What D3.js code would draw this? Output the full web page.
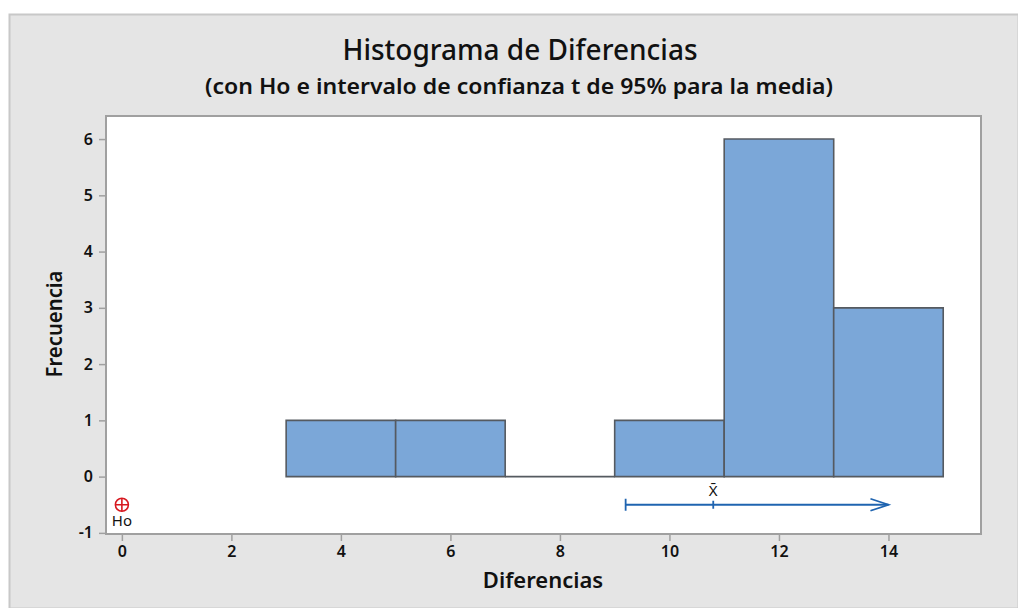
<!DOCTYPE html>
<meta charset="utf-8">
<style>
  body { margin: 0; background: #fff; }
  text { font-family: "Noto Sans", "Open Sans", sans-serif; }
</style>
<script src="https://d3js.org/d3.v7.min.js"></script>
<div id="chart"></div>
<script>
// Datos: clases del histograma (limites) y frecuencias
var binEdges = [3, 5, 7, 9, 11, 13, 15];
var counts = [1, 1, 0, 1, 6, 3];
var xTicks = [0, 2, 4, 6, 8, 10, 12, 14];
var yTicks = [-1, 0, 1, 2, 3, 4, 5, 6];
// Ho y intervalo de confianza (limite inferior, media, extremo de la flecha)
var ho = 0;
var ciLower = 9.2, xbar = 10.8, ciArrowEnd = 14.0;

var W = 1018, H = 608;
var svg = d3.select("#chart").append("svg")
  .attr("width", W).attr("height", H);

// fondo gris del grafico
svg.append("rect")
  .attr("x", 9.5).attr("y", 14.5)
  .attr("width", W - 9).attr("height", H - 14)
  .attr("fill", "#e5e5e5").attr("stroke", "#c8c8c8").attr("stroke-width", 2);

var pLeft = 106, pRight = 981, pTop = 116, pBottom = 534;

var x = d3.scaleLinear().domain([-0.29, 15.69]).range([pLeft, pRight]);
var y = d3.scaleLinear().domain([-1.02, 6.41]).range([pBottom, pTop]);

// area de datos
svg.append("rect")
  .attr("x", pLeft).attr("y", pTop)
  .attr("width", pRight - pLeft).attr("height", pBottom - pTop)
  .attr("fill", "#fff").attr("stroke", "#a0a0a0").attr("stroke-width", 2);

// ejes
var fmt = function(d) { return String(d); };
var xAxis = svg.append("g")
  .attr("transform", "translate(0," + (pBottom + 1) + ")")
  .call(d3.axisBottom(x).tickValues(xTicks).tickSize(6).tickPadding(5).tickFormat(fmt));
var yAxis = svg.append("g")
  .attr("transform", "translate(" + (pLeft - 1) + ",0)")
  .call(d3.axisLeft(y).tickValues(yTicks).tickSize(6).tickPadding(6).tickFormat(fmt));

[xAxis, yAxis].forEach(function(a) {
  a.select(".domain").remove();
  a.selectAll(".tick line").attr("stroke", "#a0a0a0").attr("stroke-width", 1.5);
  a.selectAll(".tick text")
    .attr("fill", "#111")
    .style("font-size", "16px")
    .style("font-weight", "600");
});

// barras (path para que la clase vacia se vea como linea)
var bars = counts.map(function(c, i) {
  return { x0: binEdges[i], x1: binEdges[i + 1], n: c };
});
svg.append("g").selectAll("path")
  .data(bars)
  .enter().append("path")
  .attr("d", function(d) {
    return "M" + x(d.x0) + "," + y(0) + "V" + y(d.n) + "H" + x(d.x1) + "V" + y(0) + "Z";
  })
  .attr("fill", "#7ba7d8")
  .attr("stroke", "#555a60")
  .attr("stroke-width", 1.6);

// intervalo de confianza
var ciY = y(-0.5);
var blue = "#1f64b0";
svg.append("line")
  .attr("x1", x(ciLower)).attr("x2", x(ciArrowEnd))
  .attr("y1", ciY).attr("y2", ciY)
  .attr("stroke", blue).attr("stroke-width", 1.8);
svg.append("line")
  .attr("x1", x(ciLower)).attr("x2", x(ciLower))
  .attr("y1", ciY - 6).attr("y2", ciY + 6)
  .attr("stroke", blue).attr("stroke-width", 1.8);
svg.append("line")
  .attr("x1", x(xbar)).attr("x2", x(xbar))
  .attr("y1", ciY - 4).attr("y2", ciY + 4)
  .attr("stroke", blue).attr("stroke-width", 1.8);
svg.append("path")
  .attr("d", "M" + (x(ciArrowEnd) - 18) + "," + (ciY - 6) + "L" + x(ciArrowEnd) + "," + ciY +
    "L" + (x(ciArrowEnd) - 18) + "," + (ciY + 6))
  .attr("fill", "none").attr("stroke", blue).attr("stroke-width", 1.8);
svg.append("text")
  .attr("x", x(xbar)).attr("y", ciY - 9)
  .attr("text-anchor", "middle")
  .style("font-size", "15px").attr("fill", "#111")
  .text("X\u0304");

// Ho
var hoX = x(ho), hoY = y(-0.5);
svg.append("circle")
  .attr("cx", hoX).attr("cy", hoY).attr("r", 6.5)
  .attr("fill", "none").attr("stroke", "#d71920").attr("stroke-width", 1.6);
svg.append("path")
  .attr("d", "M" + (hoX - 6.5) + "," + hoY + "H" + (hoX + 6.5) + "M" + hoX + "," + (hoY - 6.5) + "V" + (hoY + 6.5))
  .attr("stroke", "#d71920").attr("stroke-width", 1.6);
svg.append("text")
  .attr("x", hoX).attr("y", hoY + 21)
  .attr("text-anchor", "middle")
  .style("font-size", "15px").attr("fill", "#111")
  .text("Ho");

// titulos
svg.append("text")
  .attr("x", 520).attr("y", 60)
  .attr("text-anchor", "middle")
  .style("font-size", "28px").style("font-weight", "500").attr("fill", "#111")
  .text("Histograma de Diferencias");
svg.append("text")
  .attr("x", 519).attr("y", 94)
  .attr("text-anchor", "middle")
  .style("font-size", "22px").style("font-weight", "600").attr("fill", "#111")
  .attr("textLength", 628).attr("lengthAdjust", "spacingAndGlyphs")
  .text("(con Ho e intervalo de confianza t de 95% para la media)");
svg.append("text")
  .attr("x", 543).attr("y", 588)
  .attr("text-anchor", "middle")
  .style("font-size", "22px").style("font-weight", "600").attr("fill", "#111")
  .text("Diferencias");
svg.append("text")
  .attr("transform", "translate(62,324) rotate(-90)")
  .attr("text-anchor", "middle")
  .style("font-size", "21px").style("font-weight", "600").attr("fill", "#111")
  .attr("textLength", 107).attr("lengthAdjust", "spacingAndGlyphs")
  .text("Frecuencia");
</script>
